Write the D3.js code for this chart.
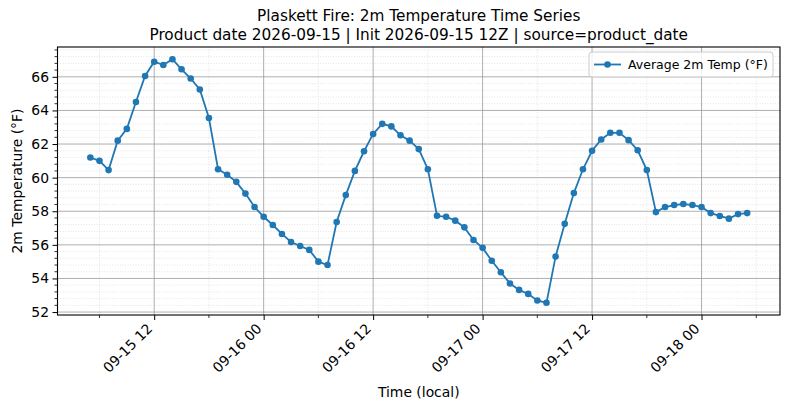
<!DOCTYPE html>
<html>
<head>
<meta charset="utf-8">
<script src="https://cdn.jsdelivr.net/npm/d3@7"></script>
<style>
  body { margin: 0; background: #fff; }
  text { font-family: "DejaVu Sans", sans-serif; fill: #000; }
</style>
</head>
<body>
<div id="chart"></div>
<script>
const width = 790;
const height = 409;
const marginTop = 47;
const marginRight = 10;
const marginBottom = 94;
const marginLeft = 57.5;

// hourly series, starting 09-15 05:00 local
const startTime = Date.UTC(2026, 8, 15, 5);
const temps = [
    61.2, 61.0, 60.45, 62.2, 62.9, 64.5, 66.05, 66.9, 66.7, 67.05,
    66.45, 65.9, 65.25, 63.55, 60.5, 60.17, 59.75, 59.05, 58.25, 57.67,
    57.18, 56.65, 56.17, 55.93, 55.7, 55.0, 54.8, 57.36, 58.96, 60.4,
    61.57, 62.6, 63.2, 63.05, 62.52, 62.2, 61.7, 60.5, 57.73, 57.67,
    57.44, 57.04, 56.29, 55.82, 55.05, 54.37, 53.7, 53.32, 53.08, 52.69,
    52.55, 55.3, 57.25, 59.08, 60.5, 61.6, 62.27, 62.67, 62.67, 62.23,
    61.63, 60.45, 57.95, 58.25, 58.37, 58.43, 58.37, 58.25, 57.89, 57.72,
    57.56, 57.83, 57.89
];
const data = temps.map((v, i) => ({ time: new Date(startTime + i * 3600e3), value: v }));

const yTicks = [52, 54, 56, 58, 60, 62, 64, 66];
const xTickHours = [12, 24, 36, 48, 60, 72]; // hours after 09-15 00:00
const xMinorHours = [6, 18, 30, 42, 54, 66, 78];

const titleLine1 = "Plaskett Fire: 2m Temperature Time Series";
const titleLine2 = "Product date 2026-09-15 | Init 2026-09-15 12Z | source=product_date";
const legendLabel = "Average 2m Temp (°F)";

const blue = "#1f77b4";
const dayZero = Date.UTC(2026, 8, 15, 0);
const hourDate = h => new Date(dayZero + h * 3600e3);

// matplotlib style 5% margins
const tExt = d3.extent(data, d => d.time);
const tPad = (tExt[1] - tExt[0]) * 0.05;
const vExt = d3.extent(data, d => d.value);
const vPad = (vExt[1] - vExt[0]) * 0.05;

const x = d3.scaleUtc([new Date(+tExt[0] - tPad), new Date(+tExt[1] + tPad)], [marginLeft, width - marginRight]);
const y = d3.scaleLinear([vExt[0] - vPad, vExt[1] + vPad], [height - marginBottom, marginTop]);

const svg = d3.select("#chart")
    .append("svg")
    .attr("width", width)
    .attr("height", height)
    .attr("viewBox", [0, 0, width, height]);

const plotBottom = height - marginBottom;
const plotRight = width - marginRight;

// minor y values every 0.4
const yMinor = [];
yTicks.forEach(t => {
    for (let j = 1; j < 5; j++) yMinor.push(t + j * 0.4);
});
const yMinorIn = yMinor.filter(v => v > y.domain()[0] && v < y.domain()[1]);
const xMinorIn = xMinorHours.map(hourDate).filter(d => d > x.domain()[0] && d < x.domain()[1]);

// minor grid
const grid = svg.append("g");
grid.selectAll(".ymg").data(yMinorIn).join("line")
    .attr("x1", marginLeft).attr("x2", plotRight)
    .attr("y1", d => y(d)).attr("y2", d => y(d))
    .attr("stroke", "#d4d4d4").attr("stroke-width", 0.6)
    .attr("stroke-dasharray", "1,1.6");
grid.selectAll(".xmg").data(xMinorIn).join("line")
    .attr("x1", d => x(d)).attr("x2", d => x(d))
    .attr("y1", marginTop).attr("y2", plotBottom)
    .attr("stroke", "#d4d4d4").attr("stroke-width", 0.6)
    .attr("stroke-dasharray", "1,1.6");

// major grid
grid.selectAll(".ygr").data(yTicks).join("line")
    .attr("x1", marginLeft).attr("x2", plotRight)
    .attr("y1", d => y(d)).attr("y2", d => y(d))
    .attr("stroke", "#9a9a9a").attr("stroke-width", 0.8);
grid.selectAll(".xgr").data(xTickHours.map(hourDate)).join("line")
    .attr("x1", d => x(d)).attr("x2", d => x(d))
    .attr("y1", marginTop).attr("y2", plotBottom)
    .attr("stroke", "#9a9a9a").attr("stroke-width", 0.8);

// series
const line = d3.line()
    .x(d => x(d.time))
    .y(d => y(d.value));

svg.append("path")
    .datum(data)
    .attr("fill", "none")
    .attr("stroke", blue)
    .attr("stroke-width", 1.8)
    .attr("d", line);

svg.append("g")
    .selectAll("circle")
    .data(data)
    .join("circle")
    .attr("cx", d => x(d.time))
    .attr("cy", d => y(d.value))
    .attr("r", 3.3)
    .attr("fill", blue);

// spines
svg.append("rect")
    .attr("x", marginLeft).attr("y", marginTop)
    .attr("width", plotRight - marginLeft).attr("height", plotBottom - marginTop)
    .attr("fill", "none").attr("stroke", "#000").attr("stroke-width", 1.1);

// y axis
const yAxis = svg.append("g")
    .attr("transform", `translate(${marginLeft},0)`)
    .call(d3.axisLeft(y).tickValues(yTicks).tickSize(5).tickPadding(3.5).tickFormat(d3.format("d")));
yAxis.select(".domain").remove();
yAxis.selectAll(".tick line").attr("stroke", "#000").attr("stroke-width", 1);
yAxis.selectAll(".tick text").style("font-size", "13.9px").style("font-family", "DejaVu Sans");

svg.append("g").selectAll("line").data(yMinorIn).join("line")
    .attr("x1", marginLeft - 3).attr("x2", marginLeft)
    .attr("y1", d => y(d)).attr("y2", d => y(d))
    .attr("stroke", "#000").attr("stroke-width", 0.8);

// x axis
const xAxis = svg.append("g")
    .attr("transform", `translate(0,${plotBottom})`)
    .call(d3.axisBottom(x).tickValues(xTickHours.map(hourDate)).tickSize(5).tickFormat(d3.utcFormat("%m-%d %H")));
xAxis.select(".domain").remove();
xAxis.selectAll(".tick line").attr("stroke", "#000").attr("stroke-width", 1);
xAxis.selectAll(".tick text")
    .style("font-size", "13.9px")
    .style("font-family", "DejaVu Sans")
    .attr("text-anchor", "end")
    .attr("y", 0)
    .attr("dy", "0.35em")
    .attr("transform", "translate(-5,11) rotate(-45)");

svg.append("g").selectAll("line").data(xMinorIn).join("line")
    .attr("x1", d => x(d)).attr("x2", d => x(d))
    .attr("y1", plotBottom).attr("y2", plotBottom + 3)
    .attr("stroke", "#000").attr("stroke-width", 0.8);

// labels
svg.append("text")
    .attr("x", (marginLeft + plotRight) / 2)
    .attr("y", 397)
    .attr("text-anchor", "middle")
    .style("font-size", "13.9px")
    .text("Time (local)");

svg.append("text")
    .attr("transform", `translate(22,${(marginTop + plotBottom) / 2}) rotate(-90)`)
    .attr("text-anchor", "middle")
    .style("font-size", "13.9px")
    .text("2m Temperature (°F)");

svg.append("text")
    .attr("x", (marginLeft + plotRight) / 2)
    .attr("y", 21)
    .attr("text-anchor", "middle")
    .style("font-size", "15.3px")
    .text(titleLine1);

svg.append("text")
    .attr("x", (marginLeft + plotRight) / 2)
    .attr("y", 39.5)
    .attr("text-anchor", "middle")
    .style("font-size", "15.3px")
    .text(titleLine2);

// legend
const legend = svg.append("g").attr("transform", "translate(589,52)");
legend.append("rect")
    .attr("width", 184).attr("height", 25).attr("rx", 3)
    .attr("fill", "#fff").attr("fill-opacity", 0.8)
    .attr("stroke", "#cccccc").attr("stroke-width", 1);
legend.append("line")
    .attr("x1", 5).attr("x2", 32).attr("y1", 12.5).attr("y2", 12.5)
    .attr("stroke", blue).attr("stroke-width", 1.8);
legend.append("circle")
    .attr("cx", 18.5).attr("cy", 12.5).attr("r", 3.3).attr("fill", blue);
legend.append("text")
    .attr("x", 39).attr("y", 17)
    .style("font-size", "12.5px")
    .text(legendLabel);
</script>
</body>
</html>
